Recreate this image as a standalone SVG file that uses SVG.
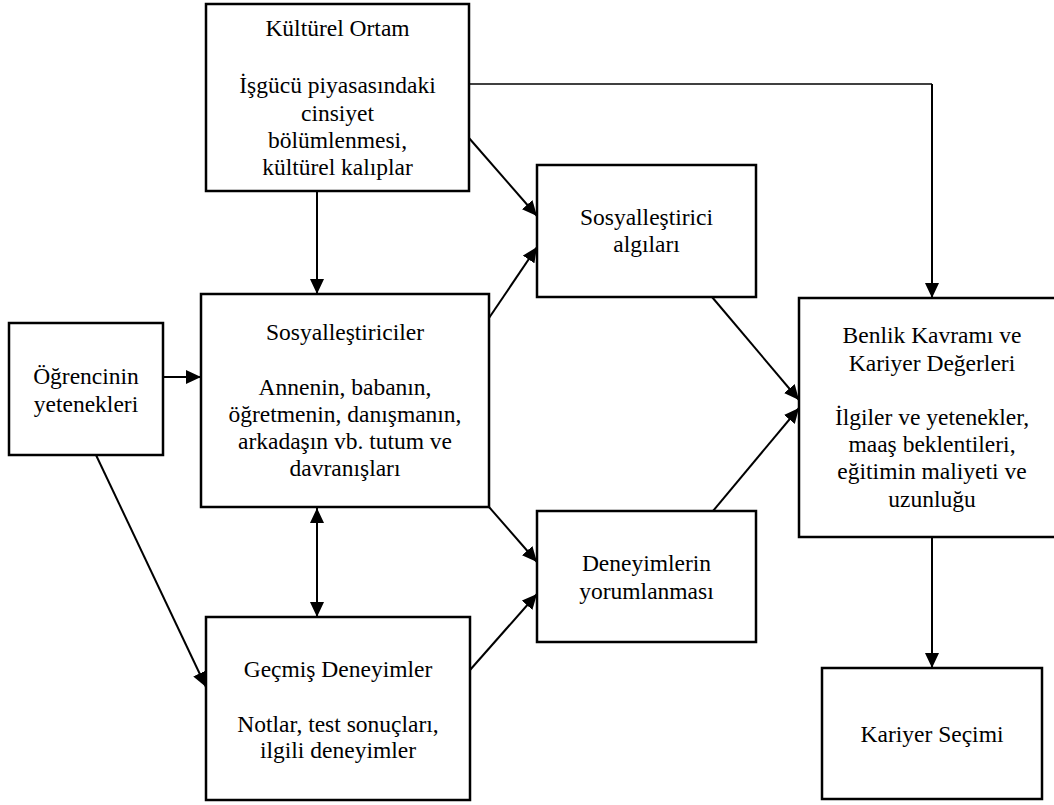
<svg xmlns="http://www.w3.org/2000/svg" width="1054" height="805" viewBox="0 0 1054 805">
  <style>
    .box { fill: #ffffff; stroke: #000000; stroke-width: 2.5; }
    .t { font-family: "Liberation Serif", "Times New Roman", serif; font-size: 23.5px; fill: #000000; text-anchor: middle; }
    .c { fill: none; stroke: #000000; stroke-width: 2; }
    .thin { fill: none; stroke: #000000; stroke-width: 1.3; }
  </style>
  <defs>
    <marker id="ah" markerUnits="userSpaceOnUse" markerWidth="15" markerHeight="14" refX="15" refY="7" orient="auto-start-reverse" viewBox="0 0 15 14">
      <path d="M0,0 L15,7 L0,14 z" fill="#000000"/>
    </marker>
  </defs>
  <rect width="1054" height="805" fill="#ffffff"/>

  <g id="connectors">
    <path class="thin" d="M469,84 H932"/>
    <line class="c" x1="932" y1="84" x2="932" y2="298" marker-end="url(#ah)"/>
    <line class="c" x1="317" y1="191" x2="317" y2="294" marker-end="url(#ah)"/>
    <line class="c" x1="469" y1="138" x2="537" y2="216" marker-end="url(#ah)"/>
    <line class="c" x1="489" y1="318" x2="537" y2="247" marker-end="url(#ah)"/>
    <line class="c" x1="163" y1="377" x2="201" y2="377" marker-end="url(#ah)"/>
    <line class="c" x1="489" y1="507" x2="537" y2="562" marker-end="url(#ah)"/>
    <line class="c" x1="470" y1="670" x2="537" y2="594" marker-end="url(#ah)"/>
    <line class="c" x1="317" y1="508" x2="317" y2="617" marker-start="url(#ah)" marker-end="url(#ah)"/>
    <line class="c" x1="96" y1="455" x2="206" y2="687" marker-end="url(#ah)"/>
    <line class="c" x1="712" y1="297" x2="799" y2="400" marker-end="url(#ah)"/>
    <line class="c" x1="713" y1="511" x2="799" y2="408" marker-end="url(#ah)"/>
    <line class="c" x1="932" y1="537" x2="932" y2="668" marker-end="url(#ah)"/>
  </g>

  <g id="kulturel-ortam">
    <rect class="box" x="206" y="4" width="263" height="187"/>
    <text class="t" x="337.5" y="36">Kültürel Ortam</text>
    <text class="t" x="337.5" y="93">İşgücü piyasasındaki</text>
    <text class="t" x="337.5" y="121">cinsiyet</text>
    <text class="t" x="337.5" y="148">bölümlenmesi,</text>
    <text class="t" x="337.5" y="175">kültürel kalıplar</text>
  </g>

  <g id="sosyallestiriciler">
    <rect class="box" x="201" y="294" width="288" height="213"/>
    <text class="t" x="345" y="340">Sosyalleştiriciler</text>
    <text class="t" x="345" y="395">Annenin, babanın,</text>
    <text class="t" x="345" y="422">öğretmenin, danışmanın,</text>
    <text class="t" x="345" y="449">arkadaşın vb. tutum ve</text>
    <text class="t" x="345" y="476">davranışları</text>
  </g>

  <g id="ogrencinin-yetenekleri">
    <rect class="box" x="9" y="323" width="154" height="132"/>
    <text class="t" x="86" y="384">Öğrencinin</text>
    <text class="t" x="86" y="412">yetenekleri</text>
  </g>

  <g id="sosyallestirici-algilari">
    <rect class="box" x="537" y="165" width="219" height="132"/>
    <text class="t" x="646.5" y="225">Sosyalleştirici</text>
    <text class="t" x="646.5" y="252">algıları</text>
  </g>

  <g id="deneyimlerin-yorumlanmasi">
    <rect class="box" x="537" y="511" width="219" height="131"/>
    <text class="t" x="646.5" y="571">Deneyimlerin</text>
    <text class="t" x="646.5" y="599">yorumlanması</text>
  </g>

  <g id="gecmis-deneyimler">
    <rect class="box" x="206" y="617" width="264" height="183"/>
    <text class="t" x="338" y="677">Geçmiş Deneyimler</text>
    <text class="t" x="338" y="732">Notlar, test sonuçları,</text>
    <text class="t" x="338" y="758">ilgili deneyimler</text>
  </g>

  <g id="benlik-kavrami">
    <rect class="box" x="799" y="298" width="262" height="239"/>
    <text class="t" x="932" y="343">Benlik Kavramı ve</text>
    <text class="t" x="932" y="371">Kariyer Değerleri</text>
    <text class="t" x="932" y="425">İlgiler ve yetenekler,</text>
    <text class="t" x="932" y="452">maaş beklentileri,</text>
    <text class="t" x="932" y="479">eğitimin maliyeti ve</text>
    <text class="t" x="932" y="507">uzunluğu</text>
  </g>

  <g id="kariyer-secimi">
    <rect class="box" x="822" y="668" width="220" height="131"/>
    <text class="t" x="932" y="742">Kariyer Seçimi</text>
  </g>
</svg>
